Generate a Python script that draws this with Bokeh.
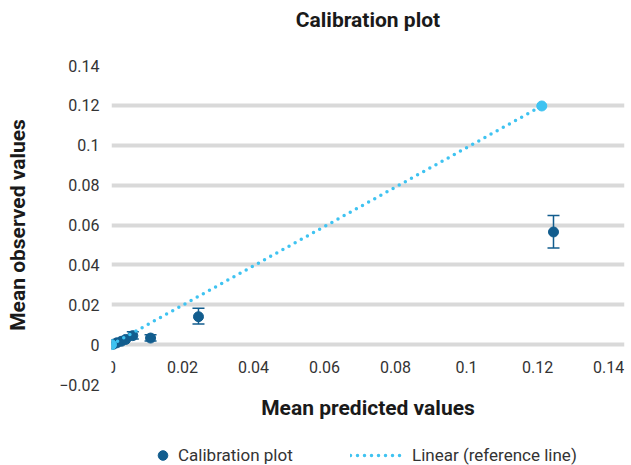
from bokeh.plotting import figure
from bokeh.layouts import column
from bokeh.models import (ColumnDataSource, Whisker, TeeHead, Legend, LegendItem,
                          FixedTicker, CustomJSTickFormatter, Range1d, Title)
from bokeh.embed import file_html
from bokeh.resources import INLINE

# --- data ---
mean_predicted = [0.0005, 0.0015, 0.0028, 0.004, 0.006, 0.011, 0.0245, 0.1245]
mean_observed = [0.0002, 0.0009, 0.0017, 0.0026, 0.0045, 0.0033, 0.0140, 0.0565]
observed_low = [0.0002, 0.0009, 0.0017, 0.0026, 0.0028, 0.0018, 0.0104, 0.0485]
observed_high = [0.0002, 0.0009, 0.0017, 0.0026, 0.0065, 0.0050, 0.0183, 0.0648]

reference_x = [0.0, 0.1212]
reference_y = [0.0, 0.1197]

x_ticks = [0, 0.02, 0.04, 0.06, 0.08, 0.10, 0.12, 0.14]
y_ticks = [-0.02, 0, 0.02, 0.04, 0.06, 0.08, 0.10, 0.12, 0.14]

DARK = "#125d8e"
LIGHT = "#3fc3f1"
GRID = "#d9d9d9"
FONT = "Roboto"
TXT = "#333333"

p = figure(width=628, height=438,
           x_range=Range1d(0, 0.1445), y_range=Range1d(-0.02, 0.14),
           output_backend="svg", toolbar_location=None,
           min_border_left=111, min_border_right=4,
           min_border_top=61, min_border_bottom=54)

p.outline_line_color = None
p.background_fill_color = "white"
p.border_fill_color = "white"

# spacer between frame and title (inner-most "above" panel)
p.add_layout(Title(text=" ", text_font_size="2px", standoff=25), "above")

# title
p.title.text = "Calibration plot"
p.title.align = "center"
p.title.text_font = FONT
p.title.text_font_size = "21px"
p.title.text_font_style = "bold"
p.title.text_color = "#1a1a1a"
p.title.standoff = 10

fmt = CustomJSTickFormatter(code="""
let s = tick.toFixed(2).replace(/\\.?0+$/, '');
if (s === '') { s = '0'; }
return s.replace('-', '\\u2212');
""")

# grid
p.xgrid.grid_line_color = None
p.ygrid.grid_line_color = GRID
p.ygrid.grid_line_width = 4
p.ygrid.ticker = FixedTicker(ticks=y_ticks)

# y axis
ya = p.yaxis[0]
ya.ticker = FixedTicker(ticks=y_ticks)
ya.formatter = fmt
ya.axis_line_color = None
ya.major_tick_line_color = None
ya.minor_tick_line_color = None
ya.major_tick_out = 0
ya.major_tick_in = 0
ya.minor_tick_out = 0
ya.major_label_text_font = FONT
ya.major_label_text_font_size = "16px"
ya.major_label_text_color = TXT
ya.major_label_standoff = 12
ya.axis_label = "Mean observed values"
ya.axis_label_text_font = FONT
ya.axis_label_text_font_size = "21px"
ya.axis_label_text_font_style = "bold"
ya.axis_label_text_color = "#1a1a1a"
ya.axis_label_standoff = 26

# x axis crossing at y = 0
xa = p.xaxis[0]
xa.fixed_location = 0
xa.ticker = FixedTicker(ticks=x_ticks)
xa.formatter = fmt
xa.axis_line_color = None
xa.major_tick_line_color = None
xa.minor_tick_line_color = None
xa.major_tick_out = 0
xa.major_tick_in = 0
xa.minor_tick_out = 0
xa.major_label_text_font = FONT
xa.major_label_text_font_size = "16px"
xa.major_label_text_color = TXT
xa.major_label_standoff = 16

# x axis title
xtitle = Title(text="Mean predicted values", align="center", text_font=FONT,
               text_font_size="21px", text_font_style="bold",
               text_color="#1a1a1a", standoff=18)
p.add_layout(xtitle, "below")

# error bars (only where they exist)
idx = [i for i in range(len(mean_predicted)) if observed_high[i] != observed_low[i]]
err_src = ColumnDataSource(dict(
    x=[mean_predicted[i] for i in idx],
    lo=[observed_low[i] for i in idx],
    hi=[observed_high[i] for i in idx]))
wh = Whisker(base="x", lower="lo", upper="hi", source=err_src,
             line_color=DARK, line_width=1.5,
             upper_head=TeeHead(size=12, line_color=DARK, line_width=1.5),
             lower_head=TeeHead(size=12, line_color=DARK, line_width=1.5))
p.add_layout(wh)

# calibration points
src = ColumnDataSource(dict(x=mean_predicted, y=mean_observed))
p.scatter("x", "y", source=src, size=10, marker="circle",
          fill_color=DARK, line_color=DARK)

# reference line
ref_src = ColumnDataSource(dict(x=reference_x, y=reference_y))
p.line("x", "y", source=ref_src, line_color=LIGHT, line_width=3.5,
       line_dash="0 7", line_cap="round")
p.scatter("x", "y", source=ref_src, size=10, marker="circle",
          fill_color=LIGHT, line_color=LIGHT)

# legend strip below the chart (its frame is aligned with the chart's frame)
lp = figure(width=628, height=27, x_range=Range1d(0, 513), y_range=Range1d(0, 27),
            output_backend="svg", toolbar_location=None, title_location=None,
            x_axis_location=None, y_axis_location=None,
            min_border_left=111, min_border_right=4, min_border_top=0, min_border_bottom=0)
lp.outline_line_color = None
lp.xgrid.visible = False
lp.ygrid.visible = False
nan = float("nan")
proxy = ColumnDataSource(dict(x=[nan], y=[nan]))
pts_proxy = lp.scatter("x", "y", source=proxy, size=10, marker="circle",
                       fill_color=DARK, line_color=DARK)
line_proxy = lp.line("x", "y", source=proxy, line_color=LIGHT, line_width=3.5,
                     line_dash="0 7", line_cap="round")

leg1 = Legend(items=[LegendItem(label="Calibration plot", renderers=[pts_proxy])],
              location=(39, -2), glyph_width=25, glyph_height=24, label_standoff=3)
leg2 = Legend(items=[LegendItem(label="Linear (reference line)", renderers=[line_proxy])],
              location=(239, -2), glyph_width=55, glyph_height=24, label_standoff=7)
for lg in (leg1, leg2):
    lg.padding = 0
    lg.margin = 0
    lg.border_line_alpha = 0
    lg.background_fill_alpha = 0
    lg.label_text_font = FONT
    lg.label_text_font_size = "17px"
    lg.label_text_color = TXT
    lg.label_height = 24
    lp.add_layout(lg)

layout = column(p, lp, spacing=0)
open("out.html", "w").write(file_html(layout, INLINE))
